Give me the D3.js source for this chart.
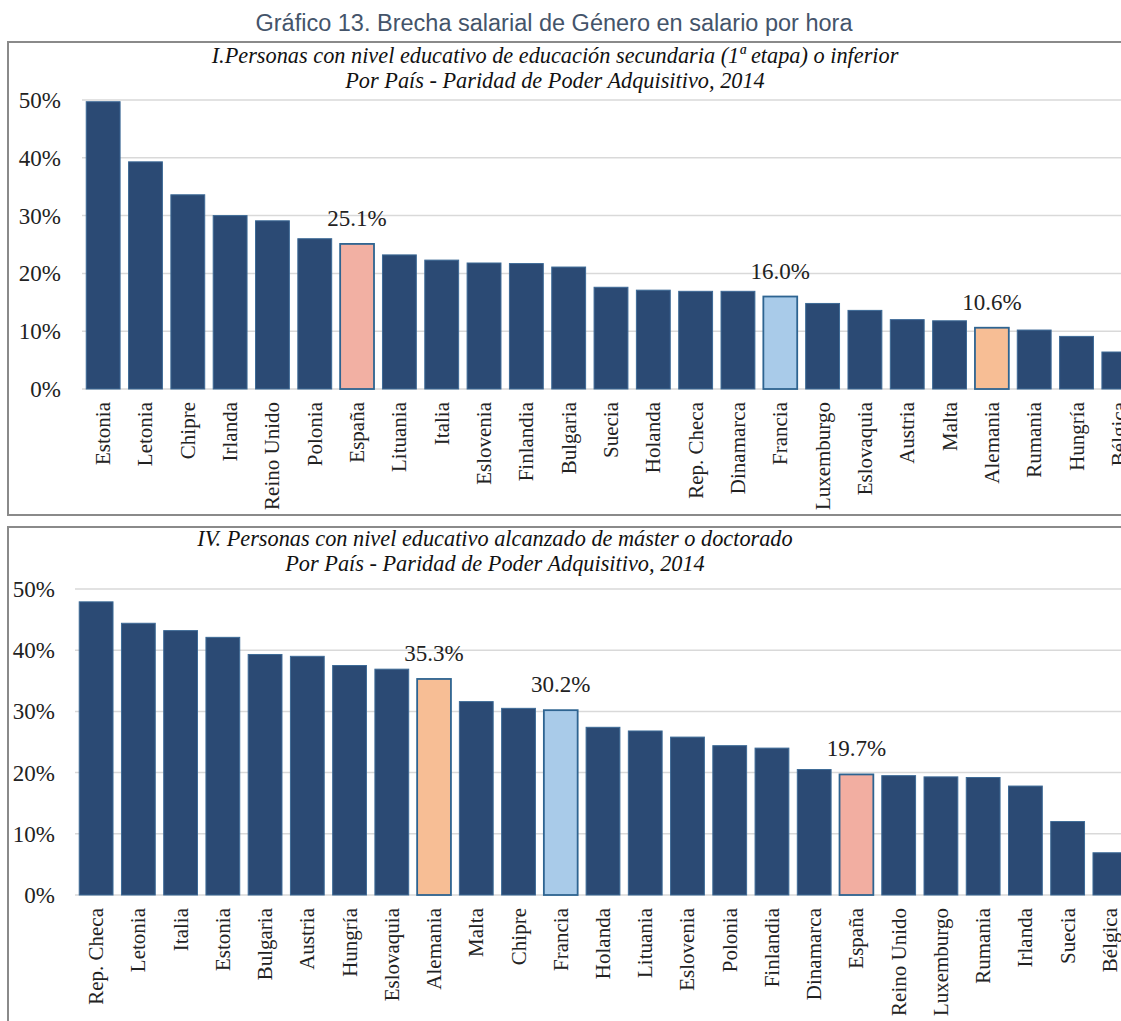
<!DOCTYPE html>
<html>
<head>
<meta charset="utf-8">
<script src="https://cdn.jsdelivr.net/npm/d3@7"></script>
<style>
  body { margin: 0; background: #fff; }
  svg { display: block; }
</style>
</head>
<body>
<div id="wrapper"></div>
<script>
// Panel I: secundaria (1ª etapa) o inferior
const countriesI = ["Estonia", "Letonia", "Chipre", "Irlanda", "Reino Unido", "Polonia", "España",
  "Lituania", "Italia", "Eslovenia", "Finlandia", "Bulgaria", "Suecia", "Holanda", "Rep. Checa",
  "Dinamarca", "Francia", "Luxemburgo", "Eslovaquia", "Austria", "Malta", "Alemania", "Rumania",
  "Hungría", "Bélgica"];
const valuesI = [49.7, 39.3, 33.6, 30.0, 29.1, 26.0, 25.1, 23.2, 22.3, 21.8, 21.7, 21.1, 17.6, 17.1,
  16.9, 16.9, 16.0, 14.8, 13.6, 12.0, 11.8, 10.6, 10.2, 9.1, 6.4];

// Panel IV: máster o doctorado
const countriesIV = ["Rep. Checa", "Letonia", "Italia", "Estonia", "Bulgaria", "Austria", "Hungría",
  "Eslovaquia", "Alemania", "Malta", "Chipre", "Francia", "Holanda", "Lituania", "Eslovenia",
  "Polonia", "Finlandia", "Dinamarca", "España", "Reino Unido", "Luxemburgo", "Rumania", "Irlanda",
  "Suecia", "Bélgica"];
const valuesIV = [47.9, 44.4, 43.2, 42.1, 39.3, 39.0, 37.5, 36.9, 35.3, 31.6, 30.5, 30.2, 27.4, 26.8,
  25.8, 24.4, 24.0, 20.5, 19.7, 19.5, 19.3, 19.2, 17.8, 12.0, 6.9];

const yTicks = [0, 10, 20, 30, 40, 50];

const highlightI = { "España": "#f2b0a3", "Francia": "#a9cbe9", "Alemania": "#f7be95" };
const highlightIV = { "España": "#f2aea1", "Francia": "#a9cbe9", "Alemania": "#f7be95" };
const labelled = ["España", "Francia", "Alemania"];

const W = 1121, H = 1021;
const navy = "#2b4a74";
const serif = "'Liberation Serif', 'DejaVu Serif', serif";

const svg = d3.select("#wrapper").append("svg")
  .attr("width", W).attr("height", H);

svg.append("text")
  .attr("x", 554).attr("y", 31)
  .attr("text-anchor", "middle")
  .style("font-family", "'Liberation Sans', Arial, sans-serif")
  .style("font-size", "23.5px")
  .attr("fill", "#44546a")
  .text("Gráfico 13. Brecha salarial de Género en salario por hora");

function drawPanel(cfg) {
  const g = svg.append("g");

  // frame (runs off the right edge like the source)
  g.append("rect")
    .attr("x", 8).attr("y", cfg.boxTop)
    .attr("width", 1200).attr("height", cfg.boxHeight)
    .attr("fill", "none").attr("stroke", "#8a8a8a").attr("stroke-width", 2);

  cfg.titles.forEach((t, i) => {
    g.append("text")
      .attr("x", cfg.titleX).attr("y", cfg.titleY[i])
      .attr("text-anchor", "middle")
      .style("font-family", serif)
      .style("font-style", "italic")
      .style("font-size", "22.3px")
      .attr("fill", "#111")
      .text(t);
  });

  const x = d3.scaleBand()
    .domain(cfg.countries)
    .range(cfg.xRange)
    .paddingInner(0.2)
    .paddingOuter(0.1);

  const y = d3.scaleLinear()
    .domain([0, 50])
    .range([cfg.y0, cfg.y50]);

  // gridlines
  g.append("g")
    .selectAll("line")
    .data(yTicks)
    .join("line")
    .attr("x1", cfg.xRange[0]).attr("x2", W)
    .attr("y1", (d) => y(d)).attr("y2", (d) => y(d))
    .attr("stroke", "#d9d9d9").attr("stroke-width", 1.5);

  // y tick labels
  g.append("g")
    .selectAll("text")
    .data(yTicks)
    .join("text")
    .attr("x", cfg.tickX)
    .attr("y", (d) => y(d) + 8)
    .attr("text-anchor", "end")
    .style("font-family", serif)
    .style("font-size", "23px")
    .attr("fill", "#222")
    .text((d) => d + "%");

  const data = cfg.countries.map((c, i) => ({ name: c, value: cfg.values[i] }));

  g.append("g")
    .selectAll("rect")
    .data(data)
    .join("rect")
    .attr("x", (d) => x(d.name))
    .attr("y", (d) => y(d.value))
    .attr("width", x.bandwidth())
    .attr("height", (d) => y(0) - y(d.value))
    .attr("fill", (d) => cfg.highlight[d.name] || navy)
    .attr("stroke", (d) => (cfg.highlight[d.name] ? "#2e6491" : "#3d6a96"))
    .attr("stroke-width", (d) => (cfg.highlight[d.name] ? 1.8 : 1));

  // value labels on highlighted bars
  g.append("g")
    .selectAll("text")
    .data(data.filter((d) => labelled.includes(d.name)))
    .join("text")
    .attr("x", (d) => x(d.name) + x.bandwidth() / 2)
    .attr("y", (d) => y(d.value) - 18)
    .attr("text-anchor", "middle")
    .style("font-family", serif)
    .style("font-size", "23px")
    .attr("fill", "#222")
    .text((d) => d.value.toFixed(1) + "%");

  // category labels
  g.append("g")
    .selectAll("text")
    .data(data)
    .join("text")
    .attr("transform", (d) => `translate(${x(d.name) + x.bandwidth() / 2 + 7}, ${cfg.y0 + 13}) rotate(-90)`)
    .attr("text-anchor", "end")
    .style("font-family", serif)
    .style("font-size", "21px")
    .attr("fill", "#222")
    .text((d) => d.name);
}

drawPanel({
  boxTop: 42, boxHeight: 473,
  titles: ["I.Personas con nivel educativo de educación secundaria (1ª etapa) o inferior",
    "Por País - Paridad de Poder Adquisitivo, 2014"],
  titleX: 555, titleY: [63, 88],
  countries: countriesI, values: valuesI, highlight: highlightI,
  xRange: [82, 1140], y0: 389, y50: 100, tickX: 61
});

drawPanel({
  boxTop: 527, boxHeight: 600,
  titles: ["IV. Personas con nivel educativo alcanzado de máster o doctorado",
    "Por País - Paridad de Poder Adquisitivo, 2014"],
  titleX: 495, titleY: [546, 571],
  countries: countriesIV, values: valuesIV, highlight: highlightIV,
  xRange: [75, 1131], y0: 895, y50: 589, tickX: 55
});
</script>
</body>
</html>
